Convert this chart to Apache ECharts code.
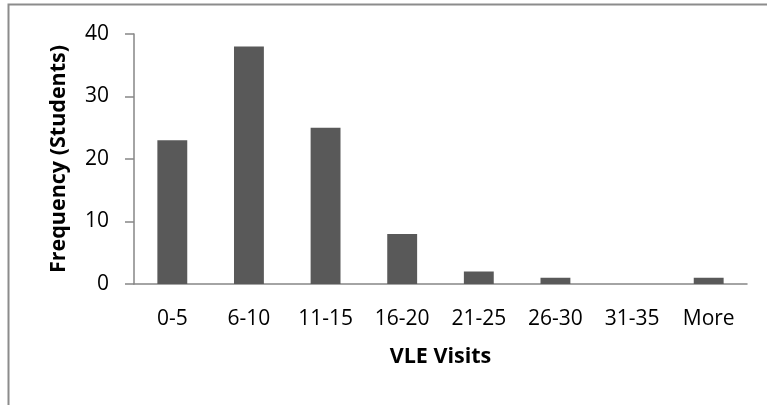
<!DOCTYPE html>
<html><head><meta charset="utf-8">
<script src="https://cdn.jsdelivr.net/npm/echarts@6/dist/echarts.min.js"></script>
<style>html,body{margin:0;padding:0;background:#fff}#c{width:767px;height:405px}</style>
</head><body><div id="c"></div>
<script>
const categories = ['0-5','6-10','11-15','16-20','21-25','26-30','31-35','More'];
const frequency = [23, 38, 25, 8, 2, 1, 0, 1];
const yTicks = [0, 10, 20, 30, 40];

const chart = echarts.init(document.getElementById('c'));
const font = '"Open Sans", "Liberation Sans", sans-serif';
chart.setOption({
  animation: false,
  graphic: [{type:'rect', shape:{x:8.5, y:4.5, width:900, height:600}, style:{fill:'none', stroke:'#8c8c8c', lineWidth:2}, z:-1}],
  grid: {left:134, top:34, right:20, bottom:121},
  xAxis: {
    type:'category', data: categories,
    name:'VLE Visits', nameLocation:'middle', nameGap:62, nameMoveOverlap:false,
    nameTextStyle:{fontFamily:font, fontWeight:'bold', fontSize:21.5, color:'#000'},
    axisLine:{lineStyle:{color:'#868686', width:1.5}},
    axisTick:{alignWithLabel:false, length:8, lineStyle:{color:'#868686', width:1.5}},
    axisLabel:{fontFamily:font, fontSize:21, color:'#000', margin:25, interval:0}
  },
  yAxis: {
    type:'value', min:yTicks[0], max:yTicks[yTicks.length-1], interval:10,
    name:'Frequency (Students)', nameLocation:'middle', nameGap:64, nameRotate:90, nameMoveOverlap:false,
    nameTextStyle:{fontFamily:font, fontWeight:'bold', fontSize:21.5, color:'#000'},
    axisLine:{show:true, lineStyle:{color:'#868686', width:1.5}},
    axisTick:{show:true, length:9, lineStyle:{color:'#868686', width:1.5}},
    axisLabel:{fontFamily:font, fontSize:21, color:'#000', margin:25},
    splitLine:{show:false}
  },
  series: [{type:'bar', data: frequency, barWidth:'39%', itemStyle:{color:'#595959'}}]
});
</script></body></html>
